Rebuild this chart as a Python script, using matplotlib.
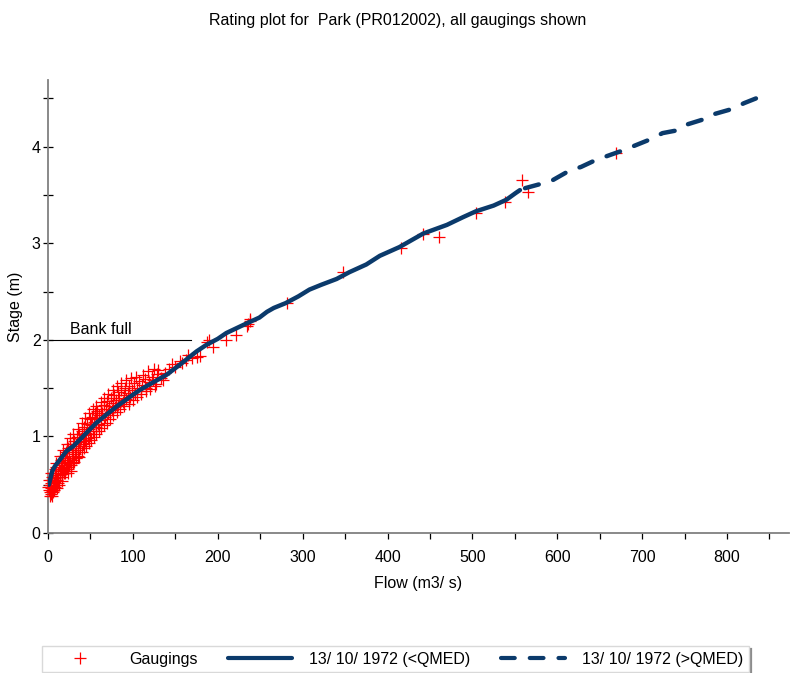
import matplotlib
matplotlib.use("Agg")
import matplotlib.pyplot as plt
from matplotlib.lines import Line2D

plt.rcParams['font.family'] = ['Liberation Sans', 'DejaVu Sans']

# ---------------- data ----------------
title = "Rating plot for  Park (PR012002), all gaugings shown"
xlabel = "Flow (m3/ s)"
ylabel = "Stage (m)"
legend_labels = ["Gaugings", "13/ 10/ 1972 (<QMED)", "13/ 10/ 1972 (>QMED)"]
bank_full_label = "Bank full"
bank_full_stage = 2.0
bank_full_flow_end = 169

# rating curve below QMED (solid)
rating_low_flow = [1, 2.4, 5, 8, 15, 22, 30, 38, 49, 57, 68, 81, 95, 108, 120, 140, 155,
                   175, 187, 200, 210, 222, 234, 249, 258, 266, 280, 295, 308, 322,
                   340, 355, 375, 391, 414, 442, 470, 489, 504, 525, 540, 551, 556]
rating_low_stage = [0.50, 0.55, 0.64, 0.69, 0.77, 0.85, 0.90, 0.97, 1.07, 1.14, 1.22,
                    1.31, 1.40, 1.48, 1.54, 1.64, 1.74, 1.88, 1.95, 2.01, 2.07, 2.12,
                    2.17, 2.23, 2.29, 2.33, 2.38, 2.45, 2.52, 2.57, 2.63, 2.70, 2.78,
                    2.87, 2.96, 3.10, 3.19, 3.27, 3.33, 3.39, 3.45, 3.52, 3.55]

# rating curve above QMED (dashed)
rating_high_flow = [562, 583, 594, 614, 628, 645, 661, 677, 708, 724, 742, 753, 775,
                    786, 806, 820, 840]
rating_high_stage = [3.57, 3.62, 3.65, 3.75, 3.79, 3.86, 3.91, 3.96, 4.07, 4.14, 4.17,
                     4.23, 4.29, 4.34, 4.39, 4.45, 4.52]

# gaugings
gauging_flow = [1, 2, 2, 3, 3, 4, 4, 5, 5, 6, 6, 7, 7, 8, 8, 9, 9, 10, 10, 11, 12, 12,
                13, 14, 15, 15, 16, 17, 18, 18, 19, 20, 20, 21, 22, 22, 23, 24, 24, 25,
                26, 26, 27, 28, 28, 29, 30, 30,
                31, 32, 33, 34, 35, 36, 37, 38, 39, 40, 41, 42, 43, 44, 45, 46, 47, 48,
                49, 50, 51, 52, 53, 54, 55, 56, 57, 58, 59, 60,
                62, 63, 64, 66, 67, 68, 70, 71, 72, 74, 75, 76, 78, 79, 80, 82, 83, 84,
                86, 88, 89, 91, 92, 94, 96, 97, 99, 101,
                103, 105, 107, 109, 111, 114, 116, 119, 122, 124, 127, 128, 130, 133,
                136, 138,
                150, 158, 163, 165, 170, 175, 179, 187, 190, 194, 210, 222, 235, 238,
                238, 236,
                281, 348, 416, 442, 461, 504, 538, 559, 565, 669,
                0.5, 1, 3, 2, 5, 6, 8, 11, 13, 14, 16, 17, 19, 21, 23, 25, 27, 29, 31,
                33, 35, 37, 40, 42, 45, 48, 51, 54, 57, 60, 63, 66, 69, 73, 77, 81, 85,
                90, 95, 100, 105, 110, 115, 120, 126,
                10, 14, 18, 22, 26, 30, 35, 40, 44, 48, 53, 57, 62, 66, 71, 76, 81, 86,
                92, 98, 104, 112, 118, 125, 142, 146, 155]
gauging_stage = [0.45, 0.50, 0.42, 0.55, 0.47, 0.40, 0.52, 0.58, 0.44, 0.49, 0.62, 0.53,
                 0.45, 0.57, 0.66, 0.50, 0.60, 0.55, 0.68, 0.47, 0.62, 0.52,
                 0.70, 0.58, 0.66, 0.76, 0.61, 0.72, 0.65, 0.80, 0.70, 0.62, 0.76, 0.84,
                 0.68, 0.78, 0.73, 0.88, 0.66, 0.80, 0.74, 0.92, 0.70, 0.84, 0.78, 0.90,
                 0.76, 0.86,
                 0.95, 0.82, 0.90, 0.99, 0.86, 0.94, 1.02, 0.88, 0.97, 1.06, 0.92, 1.01,
                 1.10, 0.95, 1.04, 1.13, 0.98, 1.08, 1.18, 1.02, 1.12, 1.20, 1.06, 1.15,
                 1.24, 1.10, 1.19, 1.26, 1.13, 1.22,
                 1.28, 1.17, 1.24, 1.33, 1.20, 1.28, 1.37, 1.24, 1.31, 1.40, 1.27, 1.35,
                 1.43, 1.30, 1.38, 1.46, 1.33, 1.40, 1.48, 1.36, 1.43, 1.50, 1.39, 1.45,
                 1.52, 1.41, 1.48, 1.55,
                 1.44, 1.50, 1.57, 1.47, 1.53, 1.59, 1.50, 1.56, 1.62, 1.58, 1.54, 1.65,
                 1.69, 1.60, 1.58, 1.66,
                 1.72, 1.76, 1.79, 1.84, 1.81, 1.82, 1.83, 1.98, 2.00, 1.93, 2.00, 2.05,
                 2.14, 2.19, 2.22, 2.16,
                 2.38, 2.70, 2.95, 3.10, 3.06, 3.31, 3.43, 3.65, 3.53, 3.93,
                 0.48, 0.55, 0.62, 0.38, 0.38, 0.42, 0.48, 0.55, 0.50, 0.64, 0.54, 0.58,
                 0.62, 0.66, 0.62, 0.70, 0.64, 0.72, 0.74, 0.78, 0.80, 0.79, 0.84, 0.88,
                 0.90, 0.93, 0.96, 0.99, 1.02, 1.06, 1.09, 1.12, 1.14, 1.18, 1.22, 1.25,
                 1.28, 1.31, 1.34, 1.38, 1.41, 1.44, 1.47, 1.49, 1.52,
                 0.72, 0.80, 0.86, 0.92, 0.98, 1.03, 1.08, 1.14, 1.19, 1.24, 1.28, 1.32,
                 1.36, 1.40, 1.44, 1.48, 1.52, 1.55, 1.58, 1.60, 1.62, 1.64, 1.68, 1.70,
                 1.70, 1.75, 1.78]

x_major = [0, 100, 200, 300, 400, 500, 600, 700, 800]
x_minor = [50, 150, 250, 350, 450, 550, 650, 750, 850]
y_major = [0, 1, 2, 3, 4]
y_minor = [0.5, 1.5, 2.5, 3.5, 4.5]

# ---------------- style ----------------
W, H = 791, 673
navy = '#0b3a6b'
axis_grey = '#808080'
fs = 11.5

fig = plt.figure(figsize=(W / 100, H / 100), dpi=100)
ax = fig.add_axes([48 / W, (H - 533) / H, (789 - 48) / W, (533 - 80) / H])
ax.set_xlim(0, 873)
ax.set_ylim(0, 4.69)

for s in ['top', 'right']:
    ax.spines[s].set_visible(False)
for s in ['left', 'bottom']:
    ax.spines[s].set_color(axis_grey)
    ax.spines[s].set_linewidth(1.3)

ax.set_xticks(x_major)
ax.set_xticks(x_minor, minor=True)
ax.set_yticks(y_major)
ax.set_yticks(y_minor, minor=True)
ax.tick_params(axis='x', which='both', direction='out', length=4.5, width=0.9,
               color='black', labelsize=fs, pad=8)
ax.tick_params(axis='y', which='both', direction='inout', length=6.5, width=0.9,
               color='black', labelsize=fs, pad=2)
ax.set_xlabel(xlabel, fontsize=fs, labelpad=8)
ax.set_ylabel(ylabel, fontsize=fs, labelpad=6)

# bank full
ax.plot([0, bank_full_flow_end], [bank_full_stage, bank_full_stage], color='black',
        lw=0.8, zorder=2)
ax.text(26, bank_full_stage + 0.03, bank_full_label, fontsize=fs, ha='left',
        va='bottom')

# gaugings
ax.plot(gauging_flow, gauging_stage, linestyle='none', marker='+', color='#ff0000',
        markersize=9, markeredgewidth=0.9, zorder=3, clip_on=False)

# rating curves
ax.plot(rating_low_flow, rating_low_stage, color=navy, lw=3.2, solid_capstyle='round',
        solid_joinstyle='round', zorder=4)
ax.plot(rating_high_flow, rating_high_stage, color=navy, lw=3.2, dashes=(3.2, 3.4),
        dash_capstyle='round', dash_joinstyle='round', zorder=4)

fig.text(398 / W, 1 - 20 / H, title, fontsize=fs, ha='center', va='center')

handles = [
    Line2D([], [], linestyle='none', marker='+', color='#ff0000', markersize=8.5,
           markeredgewidth=0.9),
    Line2D([], [], color=navy, lw=3, solid_capstyle='round'),
    Line2D([], [], color=navy, lw=3, dashes=(3.3, 3.6), dash_capstyle='round'),
]
leg = fig.legend(handles, legend_labels, loc='upper left',
                 bbox_to_anchor=(42 / W, 1 - 646 / H), ncol=3, fontsize=fs,
                 handlelength=4.0, handletextpad=1.1, columnspacing=1.9,
                 borderpad=0.35, borderaxespad=0, frameon=True, fancybox=False)
leg.get_frame().set_edgecolor('#d0d0d0')
leg.get_frame().set_linewidth(1.0)

# legend right-edge shadow
fig.canvas.draw()
bb = leg.get_window_extent()
xr = (bb.x1 + 1.5) / W
fig.add_artist(Line2D([xr, xr], [bb.y0 / H, (bb.y1 - 3) / H], color='#8c8c8c',
                      lw=1.6, transform=fig.transFigure))

fig.savefig('out.png', dpi=100)
